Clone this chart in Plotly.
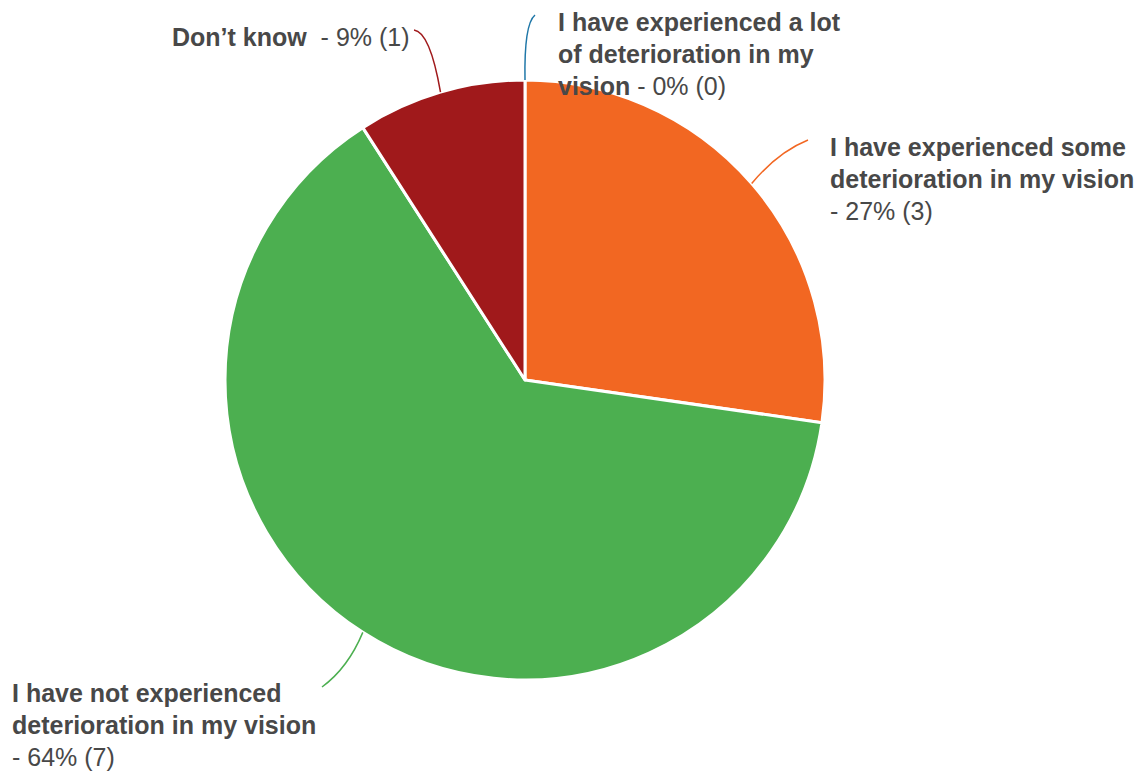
import math
import plotly.graph_objects as go

# Survey responses (clockwise from 12 o'clock)
categories = [
    "I have experienced a lot of deterioration in my vision",
    "I have experienced some deterioration in my vision",
    "I have not experienced deterioration in my vision",
    "Don\u2019t know",
]
counts = [0, 3, 7, 1]
colors = ["#1f77a8", "#f26722", "#4caf50", "#a0191b"]

# Label text: bold part + plain part, wrapped lines
label_lines = [
    ["<b>I have experienced a lot</b>", "<b>of deterioration in my</b>", "<b>vision</b> - {pct}% ({n})"],
    ["<b>I have experienced some</b>", "<b>deterioration in my vision</b>", "- {pct}% ({n})"],
    ["<b>I have not experienced</b>", "<b>deterioration in my vision</b>", "- {pct}% ({n})"],
    ["<b>Don\u2019t know</b>  - {pct}% ({n})"],
]

W, H = 1142, 774
CX, CY, R = 525, 380, 300

fig = go.Figure()
fig.add_trace(go.Pie(
    labels=categories,
    values=counts,
    sort=False,
    direction="clockwise",
    rotation=0,
    marker=dict(colors=colors, line=dict(color="white", width=3)),
    textinfo="none",
    hoverinfo="label+percent+value",
    showlegend=False,
    domain=dict(x=[(CX - R) / W, (CX + R) / W], y=[1 - (CY + R) / H, 1 - (CY - R) / H]),
))

# invisible pixel-space axes for leader lines
fig.add_trace(go.Scatter(x=[0, W], y=[0, H], mode="markers", marker=dict(opacity=0),
                         hoverinfo="skip", showlegend=False))

total = sum(counts)
# label anchor (x, first line center y) and leader-line end point / control point
label_pos = [(556, 22), (828, 147), (10, 693), (170, 37)]
leader_end = [(535, 15), (808, 140), (322, 687), (414, 30)]
leader_ctrl = [(524, 24), (778, 152), (348, 668), (430, 32)]

line_h = 32
cum = 0
for i, (cat, n) in enumerate(zip(categories, counts)):
    pct = round(100 * n / total)
    mid = (cum + n / 2) / total * 2 * math.pi
    cum += n
    sx = CX + R * math.sin(mid)
    sy = CY - R * math.cos(mid)
    ex, ey = leader_end[i]
    qx, qy = leader_ctrl[i]
    fig.add_shape(type="path", xref="x", yref="y",
                  path=f"M {sx:.1f},{sy:.1f} Q {qx},{qy} {ex},{ey}",
                  line=dict(color=colors[i], width=1.5))
    lx, ly = label_pos[i]
    for k, txt in enumerate(label_lines[i]):
        fig.add_annotation(x=lx, y=ly + k * line_h, xref="x", yref="y",
                           text=txt.format(pct=pct, n=n), showarrow=False,
                           xanchor="left", yanchor="middle",
                           font=dict(family="Liberation Sans, Arial, sans-serif",
                                     size=25, color="#484848"))

fig.update_layout(
    width=W, height=H,
    margin=dict(l=0, r=0, t=0, b=0),
    paper_bgcolor="white", plot_bgcolor="rgba(0,0,0,0)",
    xaxis=dict(range=[0, W], visible=False, fixedrange=True),
    yaxis=dict(range=[H, 0], visible=False, fixedrange=True),
)

fig.write_html("out.html")
